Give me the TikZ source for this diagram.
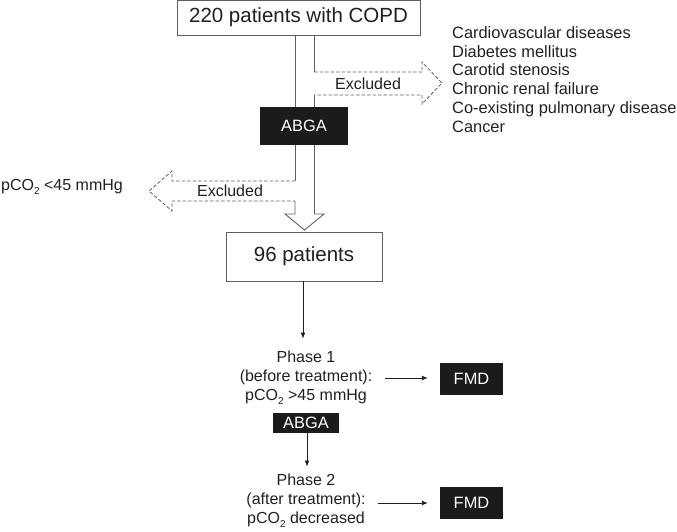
\documentclass[tikz,border=0pt]{standalone}
\usepackage{fontspec}
\setmainfont{Liberation Sans}
\usepackage{xcolor}
\usetikzlibrary{arrows.meta,positioning}
\definecolor{linegray}{HTML}{5F5F5F}
\definecolor{boxblack}{HTML}{1D1A1B}
\definecolor{inkgray}{HTML}{231F20}
\newcommand{\subtwo}{\raisebox{-0.26em}{\fontsize{10}{10}\selectfont 2}}

\tikzset{
  whitebox/.style={draw=linegray, line width=0.9pt, fill=white, text=inkgray,
    font=\fontsize{20.5}{24}\selectfont},
  blackbox/.style={fill=boxblack, text=white, inner sep=0pt,
    font=\fontsize{16.4}{19}\selectfont},
  plaintext/.style={text=inkgray, font=\fontsize{16}{19}\selectfont, align=center},
  shaft/.style={linegray, line width=0.9pt},
  excl/.style={linegray, line width=0.8pt, dash pattern=on 3.5pt off 2pt},
  flow/.style={->, inkgray, line width=0.9pt},
}

\begin{document}
\begin{tikzpicture}[x=1pt,y=-1pt,>={Latex[length=6pt,width=5pt]}]
\useasboundingbox (0,0) rectangle (677,531);
%%First place the nodes
\node[whitebox, minimum width=243pt, minimum height=35pt] (top) at (298.5,17.5) {220 patients with COPD};
\node[blackbox, minimum width=88pt, minimum height=38pt] (abga1) at (304,126) {ABGA};
\node[whitebox, minimum width=156pt, minimum height=49pt] (n96) at (304,256.5) {96 patients};
\node[text=inkgray, font=\fontsize{16.4}{18.7}\selectfont, align=left, anchor=north west, inner sep=0pt]
  (causes) at (452,26.5) {Cardiovascular diseases\\Diabetes mellitus\\Carotid stenosis\\Chronic renal failure\\Co-existing pulmonary disease\\Cancer};
\node[plaintext] (exc1) at (368,84) {Excluded};
\node[plaintext] (exc2) at (230,191) {Excluded};
\node[plaintext, anchor=west, inner sep=0pt] (lowco2) at (1,187) {pCO\subtwo{} <45 mmHg};
\node[plaintext] (ph1) at (306,378) {Phase 1\\(before treatment):\\pCO\subtwo{} >45 mmHg};
\node[blackbox, minimum width=63pt, minimum height=32pt] (fmd1) at (471.5,379) {FMD};
\node[blackbox, minimum width=66pt, minimum height=20pt] (abga2) at (306,423) {ABGA};
\node[plaintext] (ph2) at (306,501) {Phase 2\\(after treatment):\\pCO\subtwo{} decreased};
\node[blackbox, minimum width=63pt, minimum height=32pt] (fmd2) at (471.5,503) {FMD};
%%The hollow arrow with its two exits
\coordinate (sl) at (295,0);
\coordinate (sr) at (314,0);
\draw[shaft] (top.south -| sl) -- (abga1.north -| sl);
\draw[shaft] (top.south -| sr) -- (sr |- 0,72);
\draw[excl] (314,72) -- (422,72) -- (422,62) -- (442,83) -- (422,104) -- (422,95) -- (314,95);
\draw[shaft] (314,95) -- (abga1.north -| sr);
\draw[shaft] (abga1.south -| sr) -- (314,214);
\draw[shaft] (abga1.south -| sl) -- (295,181);
\draw[excl] (295,181) -- (172,181) -- (172,171) -- (149,191) -- (172,211) -- (172,201) -- (295,201);
\draw[shaft] (295,201) -- (295,214) -- (285,214) -- (304.5,230) -- (324,214) -- (314,214);
%%Draw the black arrows
\draw[flow, shorten >=9pt] (n96.south -| 303,0) -- (ph1.north -| 303,0);
\draw[flow, shorten <=9pt, shorten >=12pt] (ph1.east) -- (ph1.east -| fmd1.west);
\draw[flow, shorten >=4pt] (abga2.south -| 307,0) -- (ph2.north -| 307,0);
\draw[flow, shorten <=9pt, shorten >=12pt] (ph2.east |- fmd2) -- (fmd2.west);
\end{tikzpicture}
\end{document}
